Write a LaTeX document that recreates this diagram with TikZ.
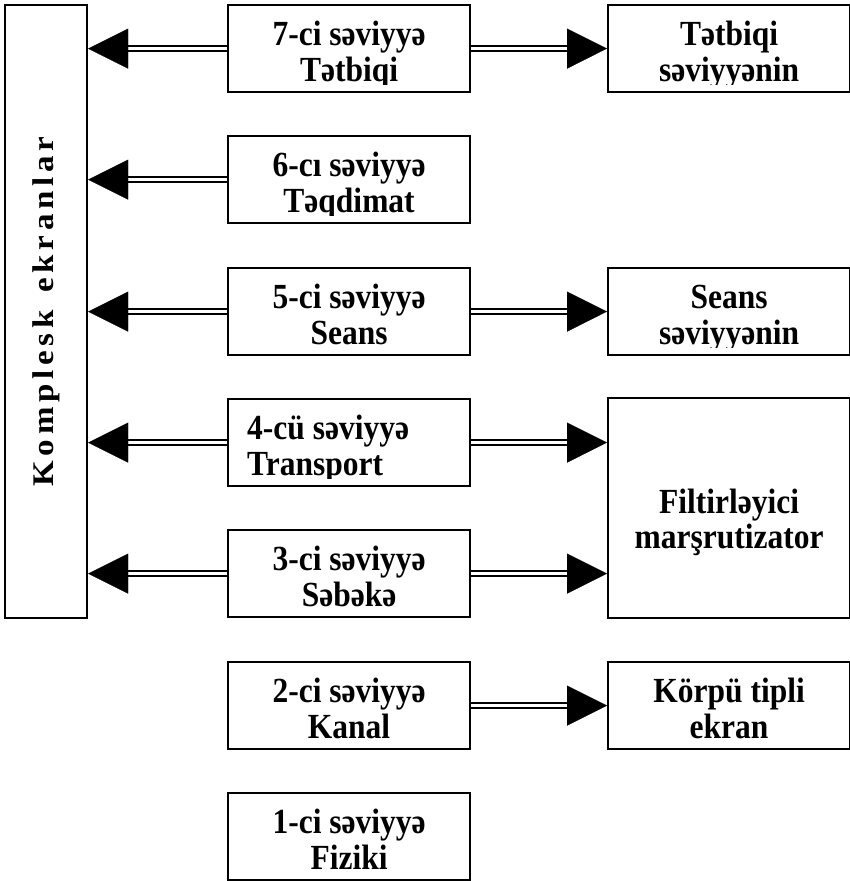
\documentclass[tikz,border=0pt]{standalone}
\usepackage{fontspec}
\usepackage{graphicx}
\setmainfont{Liberation Serif}
\usetikzlibrary{arrows.meta}

% two centred (or left-aligned) lines, slightly tall, whose reference point is the first baseline
\newcommand{\twolines}[2][c]{\scalebox{1}[1.12]{\begin{tabular}[t]{@{}#1@{}}#2\end{tabular}}}
% letter gap of the vertical caption
\newcommand{\ls}{\kern4.3pt}

\tikzset{
  box/.style={draw, line width=2.2, inner sep=0, anchor=north west,
              minimum width=242, minimum height=87},
  lbl/.style={inner sep=0, anchor=base,
              font=\fontsize{31.5}{32}\selectfont\bfseries},
  rail/.style={double, line width=1.9, double distance=2.6, shorten >=38},
  head/.style={draw=white, line width=0.2,
               -{Triangle[length=40,width=40,color=black]}},
}

% text of a box, cut off a little above the lower border
\newcommand{\boxlabel}[3]{%
  \begin{scope}
    \clip ([xshift=2pt,yshift=-2pt]#2.north west) rectangle ([xshift=-2pt,yshift=8.5pt]#2.south east);
    \node[lbl] (#1) at ([yshift=-41.5pt]#2.north) {\twolines{#3}};
  \end{scope}}

\begin{document}
\begin{tikzpicture}[x=1pt,y=-1pt]
\useasboundingbox (0,0) rectangle (849,881);

% left column
\node[box, minimum width=82, minimum height=613] (K) at (4,4) {};
\node[rotate=90, inner sep=0, font=\fontsize{30}{34}\selectfont\bfseries] (Ktext) at (K.center)
  {\scalebox{1.1}[1]{K\ls o\ls m\ls p\ls l\ls e\ls s\ls k\ls{} \ls e\ls k\ls r\ls a\ls n\ls l\ls a\ls r}};

% the seven levels
\node[box] (b7) at (227,4)   {};
\node[box] (b6) at (227,135) {};
\node[box] (b5) at (227,267) {};
\node[box] (b4) at (227,398) {};
\node[box] (b3) at (227,529) {};
\node[box] (b2) at (227,661) {};
\node[box] (b1) at (227,792) {};

% right column
\node[box] (r7) at (607,4)   {};
\node[box] (r5) at (607,267) {};
\node[box, minimum height=220] (rf) at (607,397) {};
\node[box] (r2) at (607,661) {};

% texts
\boxlabel{t7}{b7}{7-ci səviyyə\\Tətbiqi}
\boxlabel{t6}{b6}{6-cı səviyyə\\Təqdimat}
\boxlabel{t5}{b5}{5-ci səviyyə\\Seans}
\begin{scope}
  \clip ([xshift=2pt,yshift=-2pt]b4.north west) rectangle ([xshift=-2pt,yshift=8.5pt]b4.south east);
  \node[lbl, anchor=base west] (t4) at ([xshift=20pt,yshift=-41.5pt]b4.north west) {\twolines[l]{4-cü səviyyə\\Transport}};
\end{scope}
\boxlabel{t3}{b3}{3-ci səviyyə\\Səbəkə}
\boxlabel{t2}{b2}{2-ci səviyyə\\Kanal}
\boxlabel{t1}{b1}{1-ci səviyyə\\Fiziki}
\boxlabel{s7}{r7}{Tətbiqi\\səviyyənin}
\boxlabel{s5}{r5}{Seans\\səviyyənin}
\node[lbl] (sf) at ([yshift=-116pt]rf.north) {\twolines{Filtirləyici\\marşrutizator}};
\boxlabel{s2}{r2}{Körpü tipli\\ekran}

% connectors to the left column
\foreach \b in {b7,b6,b5,b4,b3} {
  \draw[rail] (\b.west) -- (K.east |- \b.west);
  \draw[head] (\b.west) -- (K.east |- \b.west);
}
% connectors to the right column
\foreach \b/\r in {b7/r7,b5/r5,b4/rf,b3/rf,b2/r2} {
  \draw[rail] (\b.east) -- (\r.west |- \b.east);
  \draw[head] (\b.east) -- (\r.west |- \b.east);
}
\end{tikzpicture}
\end{document}
